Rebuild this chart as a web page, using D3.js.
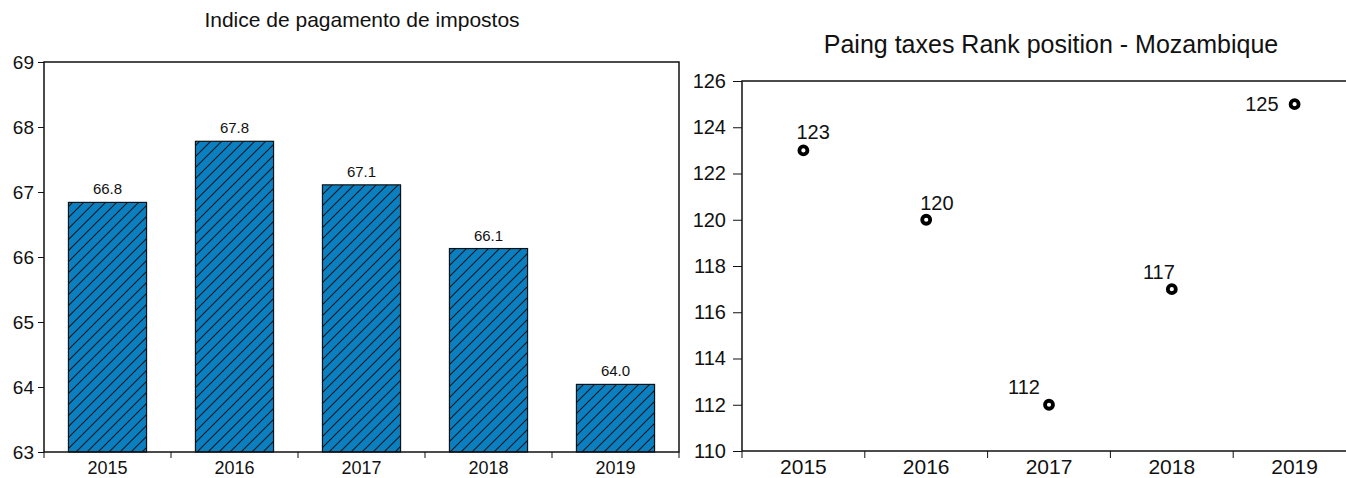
<!DOCTYPE html>
<html>
<head>
<meta charset="utf-8">
<script src="https://cdn.jsdelivr.net/npm/d3@7"></script>
<style>
  html, body { margin: 0; padding: 0; background: #fff; }
  svg { display: block; font-family: "Liberation Sans", Arial, sans-serif; }
</style>
</head>
<body>
<svg id="chart" width="1346" height="478"></svg>
<script>
// ---- data ----
const years = ["2015", "2016", "2017", "2018", "2019"];
const indexValues = [66.84, 67.78, 67.11, 66.13, 64.04];
const indexTicks = [63, 64, 65, 66, 67, 68, 69];
const rankValues = [123, 120, 112, 117, 125];
const rankTicks = [110, 112, 114, 116, 118, 120, 122, 124, 126];
const leftTitle = "Indice de pagamento de impostos";
const rightTitle = "Paing taxes Rank position - Mozambique";

const FONT = "Liberation Sans, Arial, sans-serif";
const svg = d3.select("#chart");

// hatch pattern
const defs = svg.append("defs");
const H = 11;
const pat = defs.append("pattern")
  .attr("id", "hatch").attr("patternUnits", "userSpaceOnUse")
  .attr("width", H).attr("height", H);
pat.append("rect").attr("width", H).attr("height", H).attr("fill", "#0a80c0");
pat.append("path").attr("d", `M-2,2 L2,-2 M0,${H} L${H},0 M${H - 2},${H + 2} L${H + 2},${H - 2}`)
  .attr("stroke", "#0b1620").attr("stroke-width", 1.1);

// ---- left chart ----
const L = { left: 44, right: 679, top: 62, bottom: 452 };
const xL = d3.scaleBand().domain(years).range([L.left, L.right]).paddingInner(0.385).paddingOuter(0.1925);
const yL = d3.scaleLinear().domain([63, 69]).range([L.bottom, L.top]);

svg.append("text").attr("x", 362).attr("y", 27).attr("text-anchor", "middle")
  .attr("font-size", 21).attr("fill", "#111").text(leftTitle);

const gL = svg.append("g");
gL.selectAll("rect.bar").data(years).join("rect").attr("class", "bar")
  .attr("x", d => xL(d)).attr("width", xL.bandwidth())
  .attr("y", (d, i) => yL(indexValues[i]))
  .attr("height", (d, i) => yL(63) - yL(indexValues[i]))
  .attr("fill", "url(#hatch)").attr("stroke", "#111").attr("stroke-width", 1.2);

gL.selectAll("text.val").data(years).join("text").attr("class", "val")
  .attr("x", d => xL(d) + xL.bandwidth() / 2)
  .attr("y", (d, i) => yL(indexValues[i]) - 8)
  .attr("text-anchor", "middle").attr("font-size", 15).attr("fill", "#111")
  .text((d, i) => d3.format(".1f")(indexValues[i]));

// frame
gL.append("rect").attr("x", L.left).attr("y", L.top)
  .attr("width", L.right - L.left).attr("height", L.bottom - L.top)
  .attr("fill", "none").attr("stroke", "#111").attr("stroke-width", 1.5);

// y axis
const yAxL = gL.append("g").attr("transform", `translate(${L.left},0)`)
  .call(d3.axisLeft(yL).tickValues(indexTicks).tickSize(6).tickPadding(4).tickFormat(d3.format("d")));
yAxL.select(".domain").remove();
yAxL.selectAll("text").attr("font-size", 19).attr("fill", "#111").attr("font-family", FONT);
yAxL.selectAll("line").attr("stroke", "#111");

// x axis: ticks at band boundaries
const bL = years.map(d => xL(d) - xL.step() * xL.paddingInner() / 2).concat([L.right]);
gL.selectAll("line.xt").data(bL).join("line").attr("class", "xt")
  .attr("x1", d => d).attr("x2", d => d).attr("y1", L.bottom).attr("y2", L.bottom + 6)
  .attr("stroke", "#111");
gL.selectAll("text.xl").data(years).join("text").attr("class", "xl")
  .attr("x", d => xL(d) + xL.bandwidth() / 2).attr("y", 474)
  .attr("text-anchor", "middle").attr("font-size", 18).attr("fill", "#111").text(d => d);

// ---- right chart ----
const R = { left: 742, right: 1356, top: 81, bottom: 451 };
const xR = d3.scaleBand().domain(years).range([R.left, R.right]);
const yR = d3.scaleLinear().domain([110, 126]).range([R.bottom, R.top]);

svg.append("text").attr("x", 1051).attr("y", 53).attr("text-anchor", "middle")
  .attr("font-size", 25).attr("fill", "#111").text(rightTitle);

const gR = svg.append("g");
gR.append("path")
  .attr("d", `M${R.right},${R.top} L${R.left},${R.top} L${R.left},${R.bottom} L${R.right},${R.bottom}`)
  .attr("fill", "none").attr("stroke", "#111").attr("stroke-width", 1.5);

const yAxR = gR.append("g").attr("transform", `translate(${R.left},0)`)
  .call(d3.axisLeft(yR).tickValues(rankTicks).tickSize(9).tickPadding(7).tickFormat(d3.format("d")));
yAxR.select(".domain").remove();
yAxR.selectAll("text").attr("font-size", 20).attr("fill", "#111").attr("font-family", FONT);
yAxR.selectAll("line").attr("stroke", "#111");

const bR = years.map(d => xR(d));
gR.selectAll("line.xt").data(bR).join("line").attr("class", "xt")
  .attr("x1", d => d).attr("x2", d => d).attr("y1", R.bottom).attr("y2", R.bottom + 7)
  .attr("stroke", "#111");
gR.selectAll("text.xl").data(years).join("text").attr("class", "xl")
  .attr("x", d => xR(d) + xR.bandwidth() / 2).attr("y", 474)
  .attr("text-anchor", "middle").attr("font-size", 21).attr("fill", "#111").text(d => d);

// point markers
gR.selectAll("circle.pt").data(years).join("circle").attr("class", "pt")
  .attr("cx", d => xR(d) + xR.bandwidth() / 2)
  .attr("cy", (d, i) => yR(rankValues[i]))
  .attr("r", 4).attr("fill", "#fff").attr("stroke", "#000").attr("stroke-width", 3.8);

// label placement (style, per point): [dx, dy, anchor]
const labelPlace = [[-7, -11, "start"], [-6, -10, "start"], [-9, -11, "end"], [3, -10, "end"], [-16, 7, "end"]];
gR.selectAll("text.pl").data(years).join("text").attr("class", "pl")
  .attr("x", (d, i) => xR(d) + xR.bandwidth() / 2 + labelPlace[i][0])
  .attr("y", (d, i) => yR(rankValues[i]) + labelPlace[i][1])
  .attr("text-anchor", (d, i) => labelPlace[i][2])
  .attr("font-size", 20).attr("fill", "#111").text((d, i) => rankValues[i]);
</script>
</body>
</html>
